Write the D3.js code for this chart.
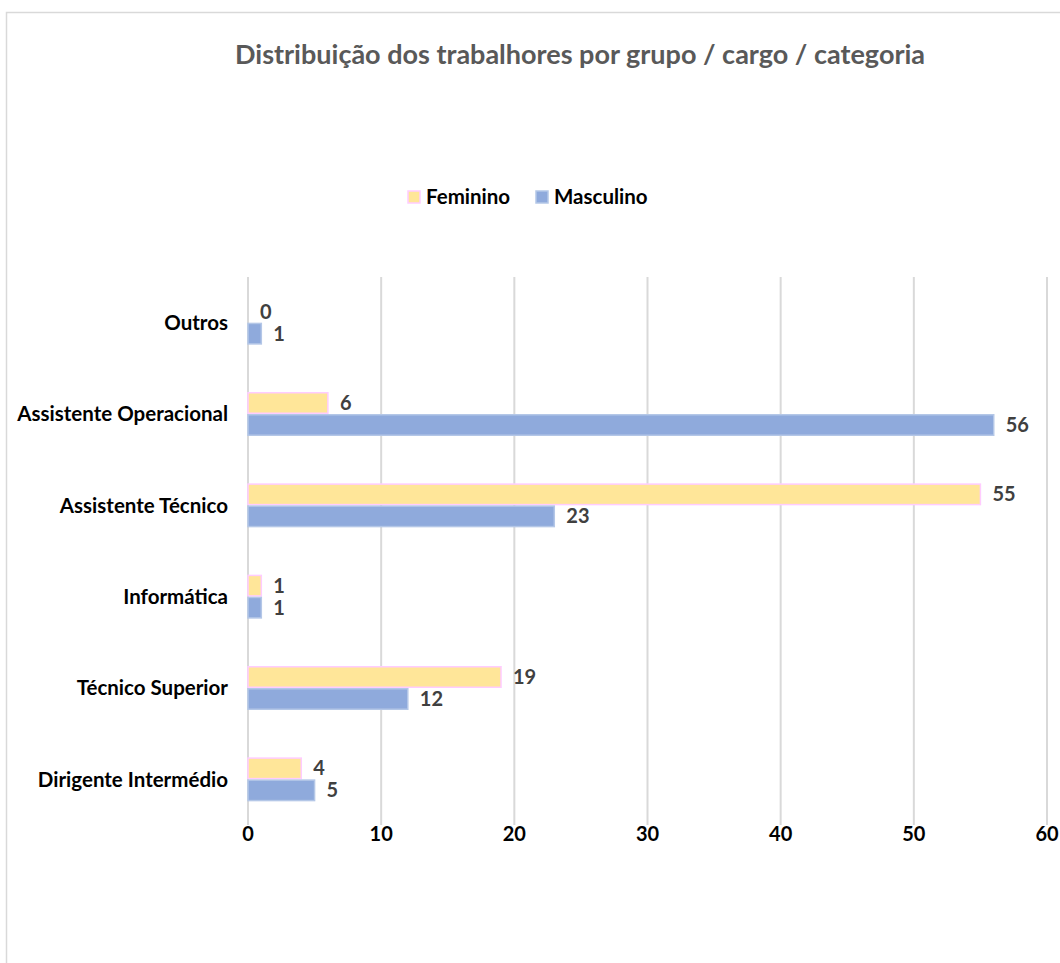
<!DOCTYPE html>
<html>
<head>
<meta charset="utf-8">
<script src="https://cdn.jsdelivr.net/npm/d3@7"></script>
<style>
  body { margin: 0; background: #fff; }
  text { font-family: Lato, "Open Sans", sans-serif; font-weight: bold; }
</style>
</head>
<body>
<div id="chart"></div>
<script>
// data
var categories = ["Outros", "Assistente Operacional", "Assistente Técnico", "Informática", "Técnico Superior", "Dirigente Intermédio"];
var feminino = [0, 6, 55, 1, 19, 4];
var masculino = [1, 56, 23, 1, 12, 5];
var seriesNames = ["Feminino", "Masculino"];
var xTicks = [0, 10, 20, 30, 40, 50, 60];

var svgWidth = 1060;
var svgHeight = 963;

var svg = d3.select("#chart")
    .append("svg")
    .attr("width", svgWidth)
    .attr("height", svgHeight);

// outer frame (cut off at right / bottom)
svg.append("rect")
    .attr("x", 6.5)
    .attr("y", 12.5)
    .attr("width", 1100)
    .attr("height", 1000)
    .attr("fill", "none")
    .attr("stroke", "#d9d9d9")
    .attr("stroke-width", 1.5);

var fill = { Feminino: "#ffe699", Masculino: "#8faadc" };
var stroke = { Feminino: "#ffccff", Masculino: "#b4c7e7" };

var x = d3.scaleLinear().domain([0, 60]).range([248, 1047]);
var y = d3.scaleBand().domain(categories).range([277, 825]);
var groupH = 44;
var ySeries = d3.scaleBand().domain(seriesNames).range([0, groupH]);

// gridlines
svg.append("g")
    .selectAll("line")
    .data(xTicks)
    .enter()
    .append("line")
    .attr("x1", d => x(d))
    .attr("x2", d => x(d))
    .attr("y1", 277)
    .attr("y2", 825)
    .attr("stroke", "#d9d9d9")
    .attr("stroke-width", 2);

// title
svg.append("text")
    .attr("x", 580)
    .attr("y", 64)
    .attr("text-anchor", "middle")
    .attr("font-size", "27px")
    .attr("fill", "#595959")
    .text("Distribuição dos trabalhores por grupo / cargo / categoria");

// legend
var legendX = [408, 536];
seriesNames.forEach(function (s, i) {
    svg.append("rect")
        .attr("x", legendX[i])
        .attr("y", 191)
        .attr("width", 12)
        .attr("height", 12)
        .attr("fill", fill[s])
        .attr("stroke", stroke[s])
        .attr("stroke-width", 1.5);
    svg.append("text")
        .attr("x", legendX[i] + 18)
        .attr("y", 204)
        .attr("font-size", "20.5px")
        .attr("fill", "#000")
        .text(s);
});

var rows = categories.map(function (c, i) {
    return { cat: c, Feminino: feminino[i], Masculino: masculino[i] };
});

var groups = svg.selectAll(".grp")
    .data(rows)
    .enter()
    .append("g")
    .attr("class", "grp")
    .attr("transform", d => `translate(0, ${y(d.cat) + (y.bandwidth() - groupH) / 2})`);

seriesNames.forEach(function (s) {
    groups.append("rect")
        .attr("x", x(0))
        .attr("y", ySeries(s) + 0.75)
        .attr("width", d => x(d[s]) - x(0))
        .attr("height", ySeries.bandwidth() - 1.5)
        .attr("fill", fill[s])
        .attr("stroke", stroke[s])
        .attr("stroke-width", 1.5);

    groups.append("text")
        .attr("x", d => x(d[s]) + 12)
        .attr("y", ySeries(s) + ySeries.bandwidth() / 2)
        .attr("dy", "0.35em")
        .attr("font-size", "20px")
        .attr("fill", "#404040")
        .text(d => d[s]);
});

// category axis labels
svg.append("g")
    .selectAll("text")
    .data(categories)
    .enter()
    .append("text")
    .attr("x", 228)
    .attr("y", d => y(d) + y.bandwidth() / 2)
    .attr("dy", "0.35em")
    .attr("text-anchor", "end")
    .attr("font-size", "20.5px")
    .attr("fill", "#000")
    .text(d => d);

// x tick labels
svg.append("g")
    .selectAll("text")
    .data(xTicks)
    .enter()
    .append("text")
    .attr("x", d => x(d))
    .attr("y", 841)
    .attr("text-anchor", "middle")
    .attr("font-size", "20px")
    .attr("fill", "#000")
    .text(d => d);
</script>
</body>
</html>
